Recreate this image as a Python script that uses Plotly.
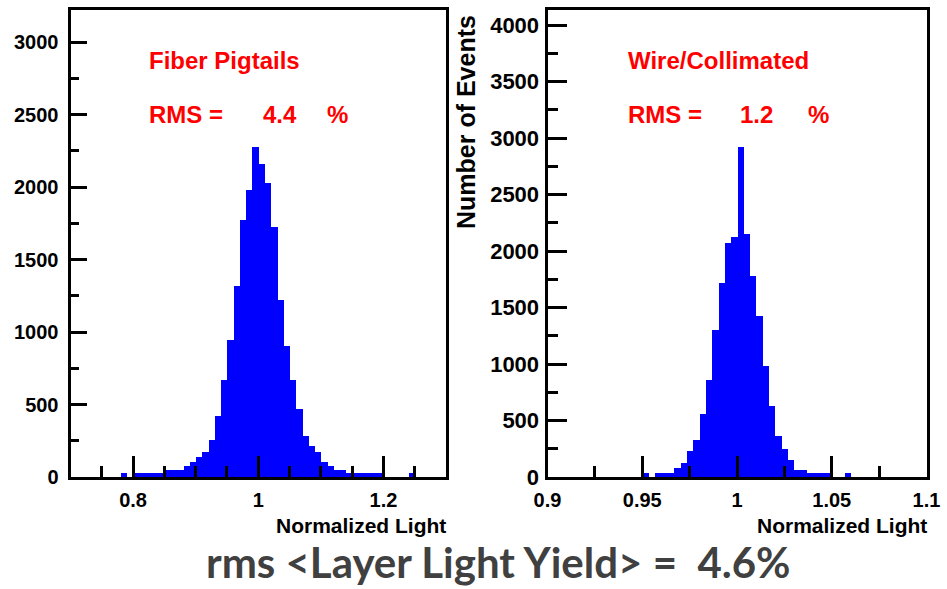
import plotly.graph_objects as go

W, H = 947, 589

# ---------------- data ----------------
# Left: Fiber Pigtails, bins of width 0.01 starting at 0.78
fiber_bin_start = 0.78
fiber_bin_width = 0.01
fiber_counts = [25, 0, 25, 25, 25, 25, 25, 50, 50, 50,
                75, 105, 140, 170, 258, 419, 672, 943, 1316, 1771,
                1978, 2274, 2157, 2027, 1723, 1219, 902, 672, 469, 281,
                212, 170, 105, 74, 51, 51, 25, 25, 25, 25,
                25, 25, 0, 0, 0, 0, 25]

# Right: Wire/Collimated, bins of width 0.2/60 starting at 0.95
wire_bin_start = 0.95
wire_bin_width = 0.2 / 60
wire_counts = [39, 0, 39, 39, 39, 80, 127, 230, 331, 561,
               862, 1299, 1713, 2067, 2120, 2922, 2155, 1777, 1423, 980,
               626, 360, 245, 154, 65, 65, 39, 39, 39, 39,
               0, 0, 39]

left_xticks = [0.8, 1.0, 1.2]
left_xticktext = ["0.8", "1", "1.2"]
left_xminor = [0.75, 0.85, 0.9, 0.95, 1.05, 1.1, 1.15, 1.25]
left_yticks = [0, 500, 1000, 1500, 2000, 2500, 3000]
left_yminor = [250, 750, 1250, 1750, 2250, 2750]

right_xticks = [0.9, 0.95, 1.0, 1.05, 1.1]
right_xticktext = ["0.9", "0.95", "1", "1.05", "1.1"]
right_xminor = [0.925, 0.975, 1.025, 1.075]
right_yticks = [0, 500, 1000, 1500, 2000, 2500, 3000, 3500, 4000]
right_yminor = [250, 750, 1250, 1750, 2250, 2750, 3250, 3750]

fiber_x = [fiber_bin_start + (i + 0.5) * fiber_bin_width for i in range(len(fiber_counts))]
wire_x = [wire_bin_start + (i + 0.5) * wire_bin_width for i in range(len(wire_counts))]

def px(x):
    return x / W

def py(y):
    return 1 - y / H

BLUE = "#0000FF"
TICKFONT = dict(family="Liberation Sans", size=20, color="black", weight="bold")

fig = go.Figure()
fig.add_trace(go.Bar(x=fiber_x, y=fiber_counts, width=fiber_bin_width,
                     marker=dict(color=BLUE, line=dict(width=0)),
                     xaxis="x", yaxis="y", hoverinfo="skip"))
fig.add_trace(go.Bar(x=wire_x, y=wire_counts, width=wire_bin_width,
                     marker=dict(color=BLUE, line=dict(width=0)),
                     xaxis="x2", yaxis="y2", hoverinfo="skip"))

def xaxis_cfg(domain, rng, tv, tt, minor, anchor):
    return dict(domain=domain, range=rng, tickvals=tv, ticktext=tt,
                ticks="inside", ticklen=21, tickwidth=3, tickcolor="black",
                showline=True, linewidth=3, linecolor="black", mirror=True,
                showgrid=False, zeroline=False, tickfont=TICKFONT,
                ticklabelstandoff=3, anchor=anchor, automargin=False,
                minor=dict(tickvals=minor, ticks="inside", ticklen=11,
                           tickwidth=3, tickcolor="black", showgrid=False))

def yaxis_cfg(domain, rng, tv, minor, anchor, mlen, nlen, size, standoff):
    f = dict(TICKFONT)
    f["size"] = size
    return dict(domain=domain, range=rng, tickvals=tv,
                ticktext=[str(v) for v in tv],
                ticks="inside", ticklen=mlen, tickwidth=3, tickcolor="black",
                showline=True, linewidth=3, linecolor="black", mirror=True,
                showgrid=False, zeroline=False, tickfont=f,
                ticklabelstandoff=standoff, anchor=anchor, automargin=False,
                minor=dict(tickvals=minor, ticks="inside", ticklen=nlen,
                           tickwidth=3, tickcolor="black", showgrid=False))

ydom = [py(477), py(10)]
fig.update_layout(
    width=W, height=H,
    margin=dict(l=0, r=0, t=0, b=0, autoexpand=False),
    paper_bgcolor="white", plot_bgcolor="white",
    showlegend=False, bargap=0,
    xaxis=xaxis_cfg([px(70.5), px(446)], [0.7, 1.3], left_xticks, left_xticktext, left_xminor, "y"),
    yaxis=yaxis_cfg(ydom, [0, 3221], left_yticks, left_yminor, "x", 16, 8, 20, 5),
    xaxis2=xaxis_cfg([px(547.5), px(926.5)], [0.9, 1.1], right_xticks, right_xticktext, right_xminor, "y2"),
    yaxis2=yaxis_cfg(ydom, [0, 4133], right_yticks, right_yminor, "x2", 19, 10, 22, 1),
)

RED = dict(family="Liberation Sans", size=24, color="#FF0000", weight="bold")
anns = []

def ann(text, x, y, font, xanchor="left", yanchor="middle", **kw):
    a = dict(text=text, x=px(x), y=py(y), xref="paper", yref="paper",
             xanchor=xanchor, yanchor=yanchor, showarrow=False, font=font)
    a.update(kw)
    anns.append(a)

ann("Fiber Pigtails", 147, 61, RED)
ann("RMS =", 147, 115, RED)
ann("4.4", 261, 115, RED)
ann("%", 325, 115, RED)
ann("Wire/Collimated", 626, 61, RED)
ann("RMS =", 626, 115, RED)
ann("1.2", 738, 115, RED)
ann("%", 806, 115, RED)

ann("Number of Events", 466, 122,
    dict(family="Liberation Sans", size=25, color="black", weight="bold"),
    xanchor="center", textangle=-90)
NL = dict(family="Liberation Sans", size=21, color="black", weight="bold")
ann("Normalized Light", 447, 525, NL, xanchor="right", borderpad=0)
ann("Normalized Light", 928, 525, NL, xanchor="right", borderpad=0)

ann("rms &lt;Layer Light Yield&gt; =  4.6%", 498, 562,
    dict(family="Lato", size=42, color="#404040", weight="bold"),
    xanchor="center", borderpad=0)

fig.update_layout(annotations=anns)
fig.write_html("out.html")
